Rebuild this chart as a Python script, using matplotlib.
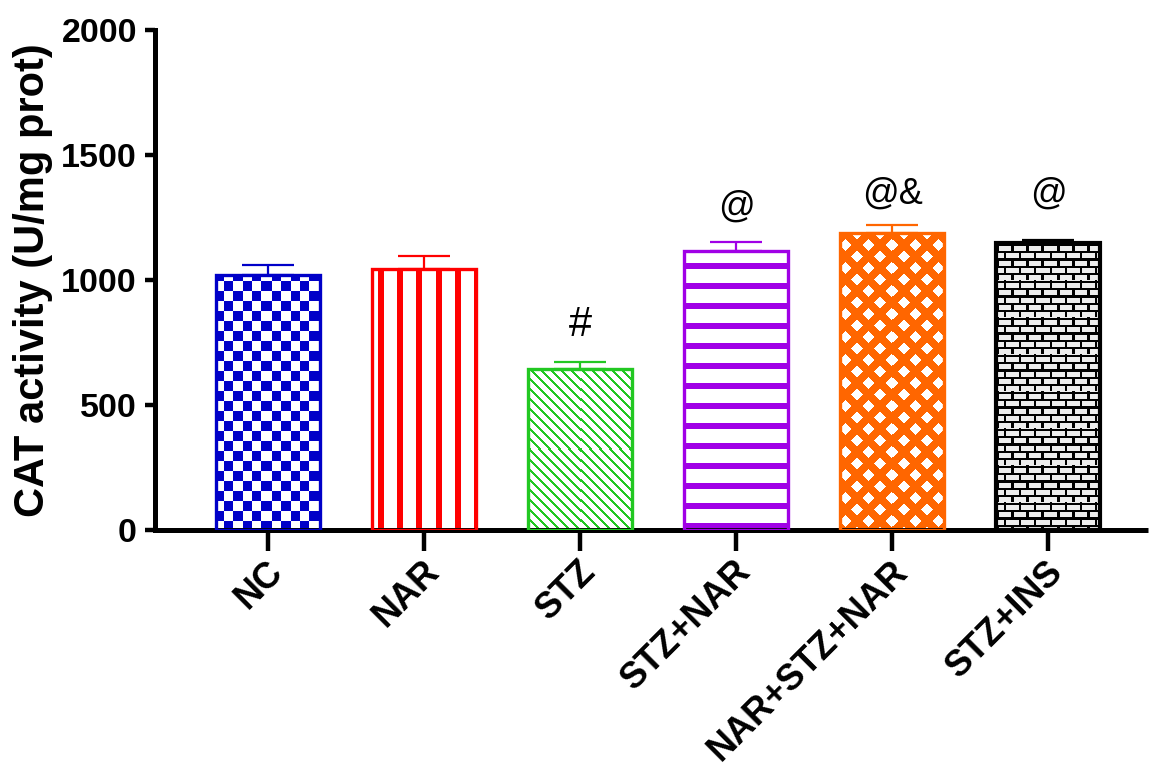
import numpy as np
import matplotlib
matplotlib.use("Agg")
import matplotlib.pyplot as plt
import matplotlib.transforms as mtransforms
from matplotlib.colors import to_rgba

plt.rcParams['font.family'] = ['Liberation Sans', 'DejaVu Sans']

groups = ["NC", "NAR", "STZ", "STZ+NAR", "NAR+STZ+NAR", "STZ+INS"]
means = [1022, 1046, 645, 1115, 1187, 1147]
sem = [40, 50, 27, 39, 32, 13]
marks = ["", "", "#", "@", "@&", "@"]
mark_y = [0, 0, 820, 1290, 1345, 1345]
mark_size = [26, 26, 30, 26, 26, 26]
colors = ["#0000C8", "#FF0000", "#22C822", "#A000E6", "#FF6600", "#000000"]
edge_w = [2.4, 2.4, 2.4, 2.4, 2.4, 3.0]
patterns = ["checker", "vstripe", "diag", "hstripe", "diamond", "brick"]

W, H, DPI = 11.5, 7.83, 100
fig = plt.figure(figsize=(W, H), dpi=DPI)
ax = fig.add_axes([155 / 1150, 253 / 783, 993 / 1150, 500 / 783])

x = np.arange(len(groups))
bar_w = 0.667
ax.set_xlim(-0.724, 5.64)
ax.set_ylim(0, 2000)


def texture(kind, w, h):
    """Boolean mask (True = coloured) on a pixel grid, row 0 at the top."""
    yy, xx = np.mgrid[0:h, 0:w].astype(float)
    if kind == "checker":
        return ((np.floor((xx + 2) / 9.4) + np.floor((yy + 3) / 10.0)) % 2) == 0
    if kind == "vstripe":
        return ((xx - 6) % 19) < 6
    if kind == "diag":
        return ((xx - yy) % 10) < 2.6
    if kind == "hstripe":
        return ((yy - 12) % 20) < 5.5
    if kind == "diamond":
        u = (xx + yy) % 23
        v = (xx - yy) % 23
        return (u < 11) | (v < 11)
    if kind == "brick":
        row = np.floor(yy / 7.4)
        return ((yy % 7.4) < 2.2) | (((xx + (row % 2) * 7.5) % 15) < 2.2)
    return np.zeros((h, w), bool)


bars = ax.bar(x, means, width=bar_w, color="none", edgecolor=colors,
              linewidth=edge_w, zorder=3)

fig.canvas.draw()
for b, kind, col in zip(bars, patterns, colors):
    x0, y0 = b.get_x(), 0
    x1, y1 = b.get_x() + b.get_width(), b.get_height()
    (px0, py0), (px1, py1) = ax.transData.transform([(x0, y0), (x1, y1)])
    w = max(int(round(px1 - px0)), 1)
    h = max(int(round(py1 - py0)), 1)
    mask = texture(kind, w, h)
    rgba = np.ones((h, w, 4))
    c = np.array(to_rgba(col))
    rgba[mask] = c
    if kind == "brick":
        rgba[~mask] = [0.93, 0.93, 0.93, 1]
    im = ax.imshow(rgba, extent=(x0, x1, y0, y1), origin="upper",
                   interpolation="nearest", aspect="auto", zorder=2)
    im.set_clip_path(b)

# upper-only error bars
for xi, m, e, col in zip(x, means, sem, colors):
    ax.errorbar(xi, m, yerr=[[0], [e]], fmt="none", ecolor=col,
                elinewidth=1.6, capsize=18.5, capthick=1.6, zorder=4)

for xi, t, yv, fs in zip(x, marks, mark_y, mark_size):
    if t:
        ax.text(xi, yv, t, ha="center", va="center", fontsize=fs,
                fontfamily="Liberation Sans", zorder=5)

ax.set_aspect("auto")
ax.set_xlim(-0.724, 5.64)
ax.set_ylim(0, 2000)

for s in ["top", "right"]:
    ax.spines[s].set_visible(False)
for s in ["left", "bottom"]:
    ax.spines[s].set_linewidth(3.6)
ax.spines["bottom"].set_capstyle("butt")

ax.set_yticks([0, 500, 1000, 1500, 2000])
ax.tick_params(axis="y", length=7.5, width=3.2, pad=5.5, labelsize=24.5)
ax.tick_params(axis="x", length=15, width=3.2, pad=14, labelsize=26)
for lab in ax.get_yticklabels():
    lab.set_fontweight("bold")

ax.set_xticks(x)
ax.set_xticklabels(groups, rotation=45, ha="right", va="center",
                   rotation_mode="anchor", fontweight="bold")
shift = mtransforms.ScaledTranslation(10 / DPI, 4 / DPI, fig.dpi_scale_trans)
for lab in ax.get_xticklabels():
    lab.set_transform(lab.get_transform() + shift)

ax.set_ylabel("CAT activity (U/mg prot)", fontsize=30, fontweight="bold",
              va="center")
ax.yaxis.set_label_coords(-0.1224, 0.5)

fig.savefig("out.png", dpi=DPI)
